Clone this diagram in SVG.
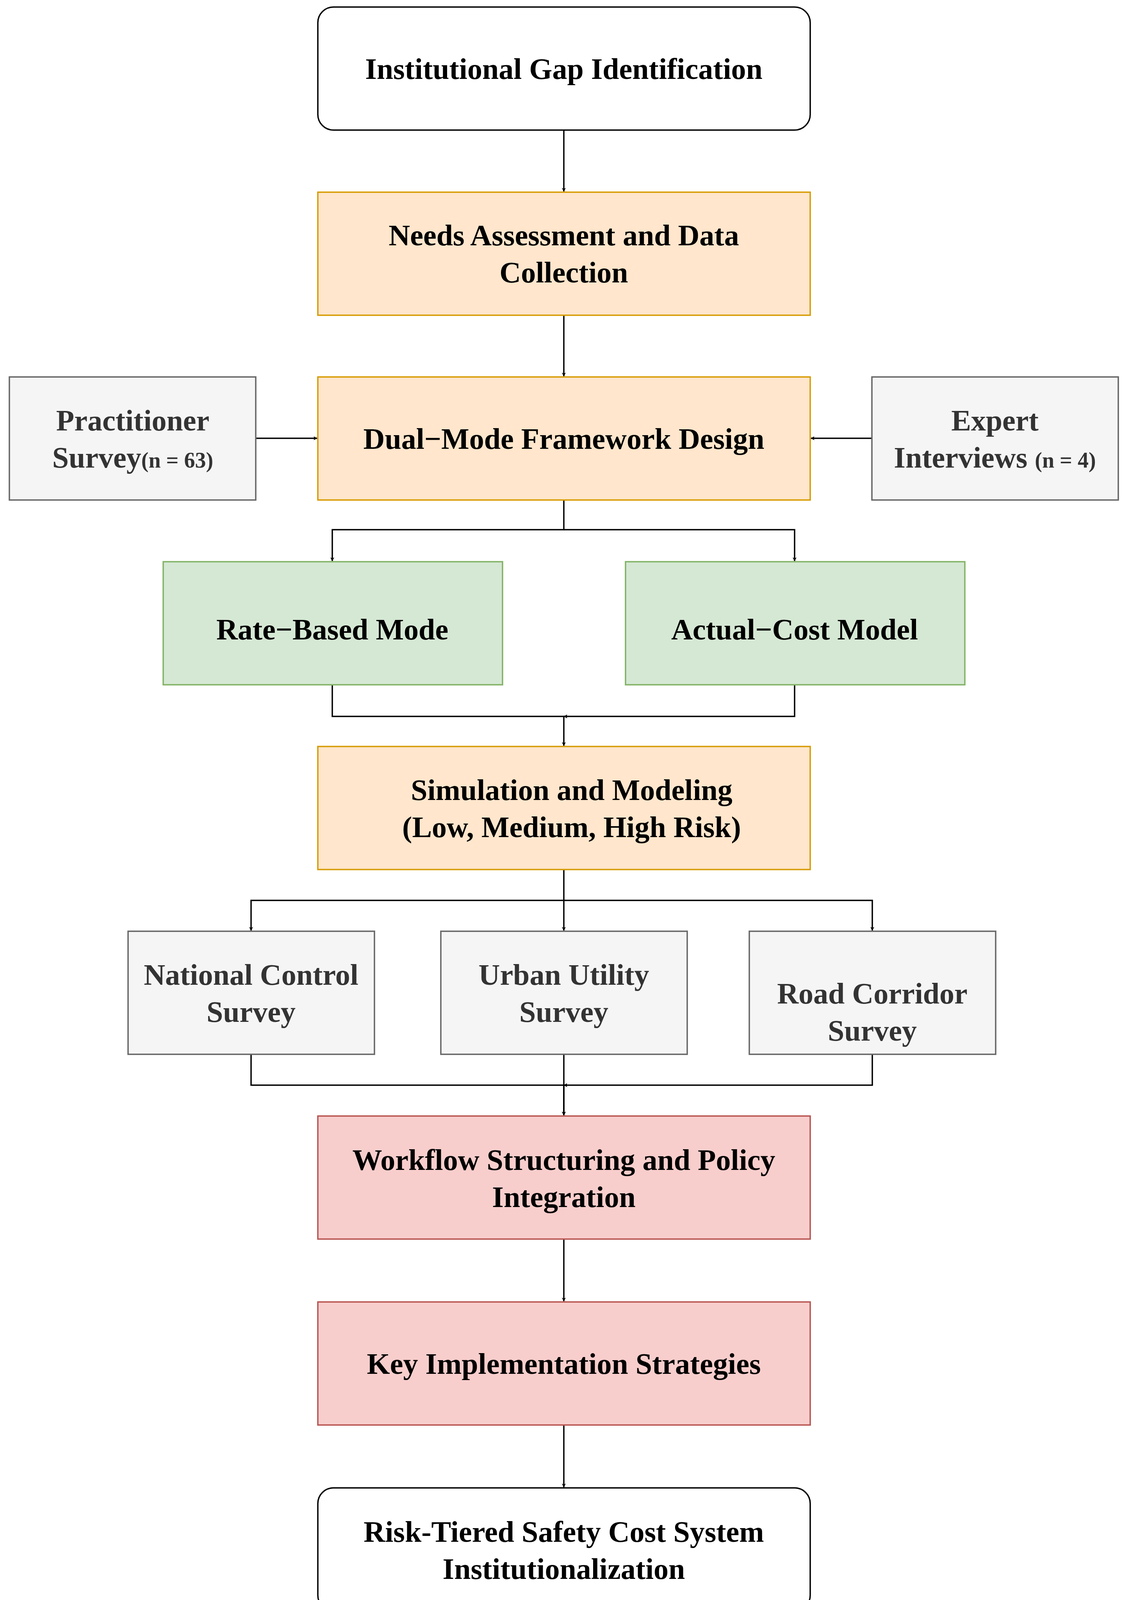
<svg xmlns="http://www.w3.org/2000/svg" width="2894" height="4146" viewBox="0 0 2894 4146">
<style>
rect{stroke-width:3.5}
.w{fill:#fff;stroke:#000}
.o{fill:#ffe6cc;stroke:#d79b00}
.g{fill:#d5e8d4;stroke:#82b366}
.s{fill:#f5f5f5;stroke:#666}
.r{fill:#f8cecc;stroke:#b85450}
text{font-family:"Liberation Serif","DejaVu Serif",serif;font-weight:bold;font-size:76px;text-anchor:middle;fill:#000}
.gt{fill:#333}
.sm{font-size:56px}
#c path{fill:none;stroke:#000;stroke-width:3.5;marker-end:url(#a)}
</style>
<defs><marker id="a" markerWidth="10" markerHeight="10" refX="9" refY="5" orient="auto" markerUnits="userSpaceOnUse" viewBox="0 0 10 10"><path d="M0,0 L10,5 L0,10 L2.5,5 z" fill="#000"/></marker>
</defs>
<rect width="2894" height="4146" fill="#fff"/>
<g id="c">
<path d="M1444,333 V490" transform="scale(1)"/>
<path d="M1444,807 V963"/>
<path d="M655,1122 H812"/>
<path d="M2233,1122 H2077"/>
<path d="M1444,1280 V1356 H851 V1436"/>
<path d="M1444,1356 H2035 V1436"/>
<path d="M851,1753 V1834 H1444 V1909"/>
<path d="M2035,1753 V1834 H1444"/>
<path d="M1444,2226 V2305 H643 V2382"/>
<path d="M1444,2305 V2382"/>
<path d="M1444,2305 H2234 V2382"/>
<path d="M643,2699 V2778 H1444 V2855"/>
<path d="M1444,2699 V2855"/>
<path d="M2234,2699 V2778 H1444"/>
<path d="M1444,3172 V3331"/>
<path d="M1444,3648 V3807"/>
</g>
<g id="n1"><rect class="w" x="814" y="18" width="1261" height="315" rx="40"/><text x="1444" y="202">Institutional Gap Identification</text></g>
<g id="n2"><rect class="o" x="814" y="492" width="1261" height="315"/><text x="1444" y="628">Needs Assessment and Data</text><text x="1444" y="723">Collection</text></g>
<g id="n3"><rect class="o" x="814" y="965" width="1261" height="315"/><text x="1444" y="1149">Dual−Mode Framework Design</text></g>
<g id="n4"><rect class="s" x="24" y="965" width="631" height="315"/><text class="gt" x="340" y="1102">Practitioner</text><text class="gt" x="340" y="1197">Survey<tspan class="sm">(n = 63)</tspan></text></g>
<g id="n5"><rect class="s" x="2233" y="965" width="631" height="315"/><text class="gt" x="2548" y="1102">Expert</text><text class="gt" x="2548" y="1197">Interviews <tspan class="sm">(n = 4)</tspan></text></g>
<g id="n6"><rect class="g" x="418" y="1438" width="869" height="315"/><text x="851" y="1637">Rate−Based Mode</text></g>
<g id="n7"><rect class="g" x="1602" y="1438" width="869" height="315"/><text x="2035" y="1637">Actual−Cost Model</text></g>
<g id="n8"><rect class="o" x="814" y="1911" width="1261" height="315"/><text x="1464" y="2048">Simulation and Modeling</text><text x="1464" y="2143">(Low, Medium, High Risk)</text></g>
<g id="n9"><rect class="s" x="328" y="2384" width="631" height="315"/><text class="gt" x="643" y="2521">National Control</text><text class="gt" x="643" y="2616">Survey</text></g>
<g id="n10"><rect class="s" x="1129" y="2384" width="631" height="315"/><text class="gt" x="1444" y="2521">Urban Utility</text><text class="gt" x="1444" y="2616">Survey</text></g>
<g id="n11"><rect class="s" x="1919" y="2384" width="631" height="315"/><text class="gt" x="2234" y="2569">Road Corridor</text><text class="gt" x="2234" y="2664">Survey</text></g>
<g id="n12"><rect class="r" x="814" y="2857" width="1261" height="315"/><text x="1444" y="2995">Workflow Structuring and Policy</text><text x="1444" y="3090">Integration</text></g>
<g id="n13"><rect class="r" x="814" y="3333" width="1261" height="315"/><text x="1444" y="3517">Key Implementation Strategies</text></g>
<g id="n14"><rect class="w" x="814" y="3809" width="1261" height="315" rx="40"/><text x="1444" y="3947">Risk-Tiered Safety Cost System</text><text x="1444" y="4042">Institutionalization</text></g>
</svg>
